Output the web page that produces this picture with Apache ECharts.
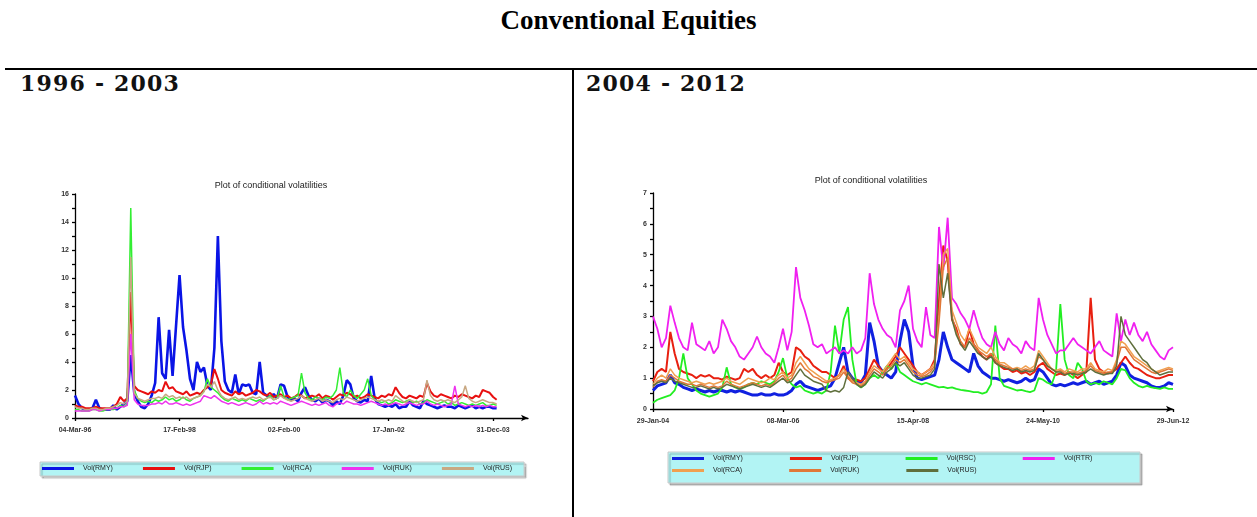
<!DOCTYPE html>
<html>
<head>
<meta charset="utf-8">
<script src="https://cdn.jsdelivr.net/npm/echarts@6/dist/echarts.min.js"></script>
<style>
  html, body { margin:0; padding:0; background:#fff; }
  #page { position:relative; width:1257px; height:517px; overflow:hidden; background:#fff; }
  .chart { position:absolute; left:0; top:0; width:1257px; height:517px; }
  #mainTitle { position:absolute; left:0; width:1257px; top:5px; text-align:center; line-height:31px;
    font-family:"Liberation Serif","Times New Roman",serif; font-weight:bold; font-size:27px; color:#000; }
  .hdr { position:absolute; top:70px; font-family:"DejaVu Serif",Georgia,serif; font-weight:bold;
    font-size:22px; color:#111; letter-spacing:1.2px; }
  #hline { position:absolute; left:5px; top:68px; width:1252px; height:2px; background:#000; }
  #vline { position:absolute; left:572px; top:69px; width:2px; height:448px; background:#000; }
</style>
</head>
<body>
<div id="page">
  <div id="mainTitle">Conventional Equities</div>
  <div id="hline"></div>
  <div id="vline"></div>
  <div class="hdr" style="left:20px;">1996 - 2003</div>
  <div class="hdr" style="left:586px;">2004 - 2012</div>
  <div id="c1" class="chart"></div>
  <div id="c2" class="chart"></div>
</div>
<script>
// ---------- Data: 1996 - 2003 ----------
const leftTickLabels = ['04-Mar-96','17-Feb-98','02-Feb-00','17-Jan-02','31-Dec-03'];
const leftNames = ['Vol(RMY)','Vol(RJP)','Vol(RCA)','Vol(RUK)','Vol(RUS)'];
const left_RMY = [1.6,1.0,0.7,0.6,0.6,0.7,1.3,0.7,0.6,0.6,0.6,0.9,0.6,0.8,1.0,1.2,4.5,1.8,1.2,0.8,
0.7,1.0,1.6,2.5,7.2,3.2,2.8,6.3,3.0,6.6,10.2,6.5,4.8,2.8,2.0,4.0,3.3,3.6,2.3,2.0,
5.0,13.0,5.5,2.6,2.0,1.8,3.1,1.7,2.4,2.3,2.4,1.8,1.7,4.0,1.8,1.6,1.5,1.7,1.4,2.4,
2.3,1.5,1.3,1.4,1.2,1.8,2.2,1.6,1.3,1.2,1.4,1.1,1.3,1.2,0.9,1.2,1.0,1.6,2.7,2.4,
1.4,1.2,1.1,1.3,1.2,3.0,1.4,1.0,0.9,0.8,0.9,0.8,1.0,0.7,0.8,0.8,1.2,0.9,0.8,0.7,
1.2,1.0,0.9,0.8,0.7,0.8,0.9,0.8,0.8,0.7,0.9,0.8,0.7,0.8,0.9,0.7,0.8,0.7,0.8,0.8,0.7,0.7];
const left_RJP = [0.9,0.8,0.8,0.7,0.7,0.7,0.8,0.7,0.7,0.7,0.7,0.8,1.0,1.5,1.2,1.4,9.0,2.3,2.0,1.9,
1.8,1.7,1.9,1.8,2.0,1.9,2.6,2.1,2.2,1.9,1.8,1.7,1.9,1.6,1.7,1.8,1.7,2.0,2.2,2.4,
3.5,2.8,2.0,1.8,1.7,1.6,1.9,1.7,1.8,1.6,1.7,1.8,2.0,1.9,1.7,1.6,1.8,1.5,1.6,1.7,
1.5,1.6,1.4,1.5,1.7,1.6,1.4,1.5,1.6,1.5,1.7,1.4,1.6,1.5,1.3,1.5,1.7,1.6,1.8,1.7,
1.5,1.6,1.4,1.5,1.7,1.6,1.5,1.4,1.6,1.5,1.7,1.6,2.2,1.8,1.5,1.4,1.6,1.5,1.4,1.6,
1.5,2.5,1.9,1.6,1.5,1.7,1.6,1.5,1.4,1.6,1.5,1.7,1.6,1.5,1.4,1.6,1.5,2.0,1.9,1.8,1.5,1.3];
const left_RCA = [0.6,0.6,0.5,0.5,0.5,0.6,0.6,0.5,0.5,0.6,0.6,0.6,0.7,0.9,0.8,1.0,15.0,2.0,1.4,1.2,
1.1,1.2,1.1,1.3,1.2,1.3,1.5,1.3,1.4,1.2,1.3,1.5,1.3,1.2,1.4,1.5,1.6,1.9,2.8,2.2,
2.0,1.8,1.5,1.3,1.2,1.4,1.3,1.2,1.3,1.2,1.4,1.3,1.2,1.3,1.2,1.4,1.6,1.3,1.4,2.3,
1.5,1.3,1.4,1.5,1.6,3.2,1.8,1.4,1.3,1.5,1.4,1.3,1.5,1.4,1.6,2.0,3.6,1.8,1.5,2.0,
1.6,1.4,1.7,2.0,2.8,1.6,1.3,1.2,1.1,1.2,1.0,1.1,1.3,1.2,1.1,1.2,1.3,1.1,1.2,1.0,
1.1,1.3,1.2,1.1,1.0,1.1,1.2,1.0,1.1,0.9,1.0,1.1,1.0,0.9,1.0,0.9,1.0,1.1,0.9,0.9,1.0,0.9];
const left_RUK = [0.5,0.5,0.5,0.5,0.5,0.6,0.6,0.5,0.6,0.6,0.6,0.7,0.7,0.8,0.8,0.9,6.0,1.3,1.0,0.9,
0.9,0.9,1.0,1.0,1.1,1.0,1.2,1.0,1.0,1.1,1.0,0.9,1.0,0.9,1.0,1.1,1.2,1.6,1.5,1.4,
1.6,1.4,1.2,1.1,1.0,1.1,1.0,0.9,1.0,1.1,1.0,0.9,1.0,1.2,1.0,1.1,1.0,1.1,1.0,1.2,
1.1,1.0,0.9,1.0,1.1,1.2,1.1,1.0,0.9,1.0,0.9,1.0,1.1,0.9,0.8,1.0,1.1,1.0,1.2,1.1,
1.0,1.0,0.9,1.0,1.1,1.2,1.1,1.0,0.9,1.0,0.9,1.0,1.1,1.0,0.9,1.0,1.1,1.0,0.9,1.0,
1.0,1.2,1.0,0.9,1.0,0.9,0.8,0.9,1.0,2.3,1.0,0.9,0.8,0.9,0.8,0.9,0.8,0.9,0.8,0.9,0.8,0.8];
const left_RUS = [0.8,0.7,0.7,0.6,0.6,0.7,0.7,0.6,0.6,0.7,0.7,0.8,0.9,1.1,1.0,1.2,11.5,1.8,1.4,1.3,
1.2,1.3,1.4,1.4,1.5,1.4,1.7,1.5,1.6,1.4,1.5,1.4,1.5,1.3,1.4,1.5,1.6,1.9,2.4,2.2,
2.6,2.0,1.6,1.4,1.3,1.4,1.5,1.3,1.4,1.3,1.4,1.5,1.4,1.5,1.3,1.4,1.5,1.3,1.4,1.6,
1.4,1.3,1.2,1.3,1.4,1.6,1.4,1.3,1.2,1.3,1.4,1.2,1.3,1.2,1.1,1.3,1.4,1.3,1.5,1.4,
1.3,1.2,1.3,1.4,1.5,1.4,1.3,1.2,1.3,1.2,1.3,1.2,1.6,1.4,1.2,1.1,1.3,1.2,1.1,1.2,
1.3,2.7,1.6,1.3,1.2,1.3,1.2,1.3,1.2,1.1,1.3,1.5,2.3,1.4,1.2,1.1,1.2,1.3,1.2,1.1,1.1,1.0];

// ---------- Data: 2004 - 2012 ----------
const rightTickLabels = ['29-Jan-04','08-Mar-06','15-Apr-08','24-May-10','29-Jun-12'];
const rightNames = ['Vol(RMY)','Vol(RJP)','Vol(RSC)','Vol(RTR)','Vol(RCA)','Vol(RUK)','Vol(RUS)'];
const right_RMY = [0.6,0.75,0.8,0.85,1.1,0.85,0.8,0.7,0.65,0.6,0.65,0.6,0.55,0.6,0.55,0.6,0.6,0.55,0.6,0.55,
0.6,0.55,0.5,0.45,0.45,0.5,0.45,0.45,0.5,0.45,0.45,0.5,0.6,0.8,0.9,0.75,0.7,0.65,0.6,0.65,
0.7,0.75,1.0,1.5,2.0,1.2,1.0,0.9,0.85,1.1,2.8,2.2,1.4,1.2,1.1,1.0,1.2,2.2,2.9,2.5,
1.4,1.0,0.95,1.0,1.05,1.1,1.6,2.5,2.0,1.6,1.5,1.4,1.3,1.2,1.8,1.4,1.2,1.1,1.0,1.0,
0.95,0.9,0.95,0.9,0.85,0.9,1.0,0.9,0.95,1.3,1.2,1.0,0.8,0.75,0.8,0.75,0.8,0.85,0.8,0.85,
0.9,0.8,0.85,0.9,0.8,0.85,0.9,1.1,1.5,1.4,1.1,1.0,0.95,0.9,0.85,0.75,0.7,0.7,0.75,0.85,0.8];
const right_RJP = [0.9,1.2,1.3,1.2,2.5,1.8,1.3,1.2,1.15,1.1,1.0,1.1,1.05,1.1,1.0,1.0,0.95,1.05,1.0,0.95,
1.0,1.3,1.2,1.3,1.1,1.0,1.1,1.0,1.1,1.5,1.2,1.1,1.2,2.0,1.9,1.7,1.6,1.4,1.3,1.2,
1.2,1.1,1.0,1.1,1.4,1.0,0.9,0.95,0.9,1.0,1.3,1.6,1.4,1.2,1.3,1.5,1.7,2.0,1.8,1.6,
1.4,1.2,1.1,1.2,1.3,1.6,3.5,5.3,4.8,2.9,2.6,2.1,2.0,2.6,2.1,1.9,1.7,1.6,1.8,1.5,
1.4,1.3,1.3,1.2,1.25,1.15,1.2,1.1,1.2,1.4,1.5,1.3,1.2,1.1,1.15,1.1,1.2,1.1,1.0,1.1,
1.2,3.6,1.6,1.3,1.2,1.15,1.2,1.3,1.5,1.7,1.5,1.35,1.3,1.2,1.1,1.05,1.0,1.0,1.05,1.1,1.1];
const right_RSC = [0.2,0.3,0.35,0.4,0.45,0.6,1.0,1.8,1.0,0.8,0.6,0.5,0.45,0.4,0.45,0.5,0.7,1.35,0.8,0.7,
0.65,0.7,0.8,0.85,0.8,0.9,0.85,0.8,0.9,1.2,1.65,1.0,0.8,0.7,0.75,0.6,0.55,0.5,0.55,0.5,
0.6,1.2,2.7,1.8,2.9,3.3,1.6,0.8,0.7,0.8,1.0,1.1,1.0,1.2,1.4,1.3,1.5,1.2,1.1,1.0,
0.9,0.85,0.8,0.85,0.8,0.75,0.7,0.72,0.68,0.7,0.65,0.62,0.6,0.58,0.55,0.55,0.5,0.55,0.8,2.7,
1.0,0.75,0.7,0.65,0.6,0.62,0.58,0.55,0.6,1.0,0.95,0.85,0.8,1.2,3.4,1.6,1.1,1.0,1.5,1.3,
0.9,0.8,0.85,0.8,0.9,0.85,0.8,1.0,1.3,1.25,1.0,0.85,0.75,0.7,0.75,0.7,0.68,0.65,0.7,0.65,0.65];
const right_RTR = [3.0,2.6,2.0,2.3,3.35,2.8,2.3,2.0,1.9,2.8,2.1,2.0,1.9,2.2,1.8,2.0,2.9,2.6,2.2,2.0,
1.7,1.6,1.8,2.0,2.35,2.0,1.8,1.7,1.5,2.0,2.6,1.9,2.5,4.6,3.6,3.2,2.7,2.1,2.0,2.1,
1.8,1.9,2.0,1.8,1.9,1.8,2.0,1.8,1.9,2.3,4.4,3.4,2.9,2.6,2.4,2.3,2.0,3.2,3.5,4.0,
2.6,2.2,2.0,3.3,2.4,2.3,5.9,4.5,6.2,3.6,3.4,3.1,2.9,2.6,3.2,2.7,2.3,2.1,2.0,2.5,
2.1,1.9,2.3,2.1,2.0,1.8,2.2,2.0,1.9,3.6,2.9,2.4,2.1,1.8,1.9,1.9,2.1,2.3,2.1,2.0,
1.9,1.8,2.0,2.2,1.9,1.8,1.7,3.1,2.2,2.9,2.4,2.8,2.4,2.2,2.5,2.1,1.9,1.7,1.6,1.9,2.0];
const right_RCA = [0.8,1.0,1.1,1.0,1.3,1.1,1.0,0.95,0.9,0.85,0.9,0.85,0.8,0.85,0.8,0.85,0.9,1.0,0.9,0.85,
0.8,0.9,1.0,0.95,0.9,0.85,0.9,1.0,0.95,1.1,1.2,1.0,1.1,1.5,1.7,1.5,1.3,1.2,1.1,1.0,
0.9,0.95,1.0,1.1,1.3,1.1,0.9,0.85,0.8,0.9,1.2,1.4,1.3,1.2,1.4,1.6,1.8,1.6,1.7,1.5,
1.3,1.2,1.1,1.2,1.3,1.5,3.0,5.0,5.2,3.2,2.8,2.4,2.2,2.6,2.3,2.0,1.9,1.8,2.0,1.7,
1.5,1.5,1.4,1.3,1.35,1.3,1.4,1.3,1.4,1.9,1.7,1.5,1.3,1.25,1.3,1.2,1.3,1.25,1.2,1.3,
1.3,1.5,1.3,1.25,1.2,1.3,1.25,1.6,2.2,2.1,1.9,1.7,1.6,1.5,1.4,1.3,1.2,1.25,1.3,1.35,1.3];
const right_RUK = [0.7,0.9,0.95,0.9,1.1,1.0,0.9,0.85,0.8,0.8,0.75,0.8,0.75,0.7,0.75,0.7,0.75,0.9,0.8,0.75,
0.7,0.75,0.8,0.85,0.8,0.75,0.8,0.75,0.85,1.0,1.1,0.9,1.0,1.3,1.5,1.3,1.2,1.05,1.0,0.9,
0.85,0.9,0.95,1.0,1.2,1.0,0.85,0.8,0.75,0.85,1.1,1.3,1.2,1.1,1.3,1.4,1.6,1.5,1.6,1.4,
1.2,1.1,1.05,1.1,1.2,1.4,2.8,4.6,4.9,3.0,2.5,2.2,2.0,2.3,2.1,1.9,1.8,1.7,1.8,1.6,
1.45,1.4,1.35,1.3,1.3,1.25,1.3,1.25,1.3,1.7,1.6,1.4,1.3,1.2,1.25,1.15,1.2,1.2,1.15,1.2,
1.25,1.4,1.25,1.2,1.15,1.2,1.2,1.5,2.0,2.0,1.8,1.6,1.5,1.4,1.3,1.2,1.15,1.2,1.25,1.3,1.25];
const right_RUS = [0.75,0.85,0.9,0.85,1.0,0.9,0.85,0.8,0.75,0.7,0.7,0.75,0.7,0.65,0.7,0.65,0.7,0.8,0.75,0.7,
0.65,0.7,0.75,0.8,0.75,0.7,0.75,0.7,0.8,0.9,1.0,0.85,0.9,1.1,1.3,1.1,1.0,0.9,0.85,0.8,
0.6,0.55,0.6,0.55,0.7,1.2,1.0,0.8,0.7,0.8,1.0,1.2,1.1,1.0,1.2,1.3,1.5,1.4,1.5,1.3,
1.1,1.0,1.0,1.05,1.1,1.3,4.7,3.6,4.4,2.9,2.4,2.1,1.9,2.2,2.0,1.8,1.7,1.6,1.7,1.5,
1.4,1.35,1.3,1.25,1.3,1.2,1.25,1.2,1.25,1.8,1.6,1.4,1.3,1.2,1.2,1.1,1.15,1.15,1.1,1.15,
1.2,1.3,1.2,1.15,1.1,1.15,1.15,1.4,3.0,2.4,2.2,2.0,1.8,1.6,1.5,1.3,1.2,1.1,1.15,1.2,1.2];

const OBS_PER_TICK = 30;

// ---------- helpers ----------
const labelFont = { fontFamily:'Liberation Sans, Arial, sans-serif', fontSize:7, fontWeight:'bold', color:'#333' };
function pairs(arr){ return arr.map((v,i)=>[i,v]); }
function tickVals(n){ const a=[]; for(let k=0;k<n;k++) a.push(k*OBS_PER_TICK); return a; }
function xAxis(labels, max){
  const vals = tickVals(labels.length);
  return {
    type:'value', min:0, max:max, interval:OBS_PER_TICK,
    axisLine:{ show:true, lineStyle:{ color:'#000', width:1.3 }, symbol:['none','arrow'], symbolSize:[5,7] },
    axisTick:{ show:true, length:3, customValues:vals, lineStyle:{ color:'#000', width:1.3 } },
    axisLabel:{ ...labelFont, margin:9, customValues:vals,
      formatter: v => labels[Math.round(v/OBS_PER_TICK)] || '' },
    splitLine:{ show:false }
  };
}
function yAxis(max, interval){
  return {
    type:'value', min:0, max:max, interval:interval,
    axisLine:{ show:true, lineStyle:{ color:'#000', width:1.3 } },
    axisTick:{ show:true, length:3, lineStyle:{ color:'#000', width:1.3 } },
    minorTick:{ show:true, splitNumber:2, length:3, lineStyle:{ color:'#000', width:1.3 } },
    axisLabel:{ ...labelFont, margin:6 },
    splitLine:{ show:false }
  };
}
function titleAt(x, y){
  return { text:'Plot of conditional volatilities', left:x, top:y, textAlign:'center',
    textStyle:{ fontFamily:'Liberation Sans, Arial, sans-serif', fontSize:9, fontWeight:'normal', color:'#222' } };
}
function legendStyle(extra){
  return Object.assign({
    orient:'horizontal', icon:'rect', itemWidth:32, itemHeight:3, selectedMode:false,
    textStyle:{ fontFamily:'Liberation Sans, Arial, sans-serif', fontSize:7, color:'#222', padding:[0,0,0,4] }
  }, extra);
}

// ---------- left chart ----------
const leftColors = ['#0a14e6','#e81010','#33ee33','#ee33ee','#c8a882'];
const leftWidths = [2.6,2.0,1.5,1.5,1.5];
const leftData = [left_RMY,left_RJP,left_RCA,left_RUK,left_RUS];
const c1 = echarts.init(document.getElementById('c1'), null, { renderer:'canvas' });
c1.setOption({
  animation:false,
  backgroundColor:'transparent',
  title: titleAt(266, 176),
  grid:{ left:75, right:1257-528, top:194, bottom:517-418 },
  xAxis: xAxis(leftTickLabels, 130),
  yAxis: yAxis(16, 2),
  legend: legendStyle({ data:leftNames, left:40, top:462, itemGap:30, padding:[3,12,4,2],
    backgroundColor:'#b2f4f4', borderColor:'#c8c8c8', borderWidth:1,
    shadowColor:'rgba(0,0,0,0.25)', shadowOffsetX:2, shadowOffsetY:2, shadowBlur:1 }),
  series: leftNames.map((n,k)=>({
    name:n, type:'line', data:pairs(leftData[k]), showSymbol:false, symbol:'none',
    lineStyle:{ color:leftColors[k], width:leftWidths[k] }, itemStyle:{ color:leftColors[k] }
  }))
});

// ---------- right chart ----------
const rightColors = ['#1020e0','#e82010','#22ee22','#f020f0','#f0a050','#e07838','#5f6f3c'];
const rightWidths = [3.0,2.0,1.8,1.8,1.5,1.5,1.5];
const rightData = [right_RMY,right_RJP,right_RSC,right_RTR,right_RCA,right_RUK,right_RUS];
const c2 = echarts.init(document.getElementById('c2'), null, { renderer:'canvas' });
c2.setOption({
  animation:false,
  backgroundColor:'transparent',
  title: titleAt(866, 171),
  grid:{ left:653, right:1257-1173, top:193, bottom:517-409 },
  xAxis: xAxis(rightTickLabels, 120),
  yAxis: yAxis(7, 1),
  graphic:[{ type:'rect', shape:{ x:668, y:452, width:472, height:31 }, z:-1,
    style:{ fill:'#b2f4f4', stroke:'#c8c8c8', lineWidth:1, shadowColor:'rgba(0,0,0,0.25)', shadowOffsetX:2, shadowOffsetY:2, shadowBlur:1 } }],
  legend:[
    legendStyle({ data:rightNames.slice(0,4), left:672, top:455, itemGap:47, padding:0 }),
    legendStyle({ data:rightNames.slice(4), left:672, top:467, itemGap:47, padding:0 })
  ],
  series: rightNames.map((n,k)=>({
    name:n, type:'line', data:pairs(rightData[k]), showSymbol:false, symbol:'none',
    lineStyle:{ color:rightColors[k], width:rightWidths[k] }, itemStyle:{ color:rightColors[k] }
  }))
});
</script>
</body>
</html>
